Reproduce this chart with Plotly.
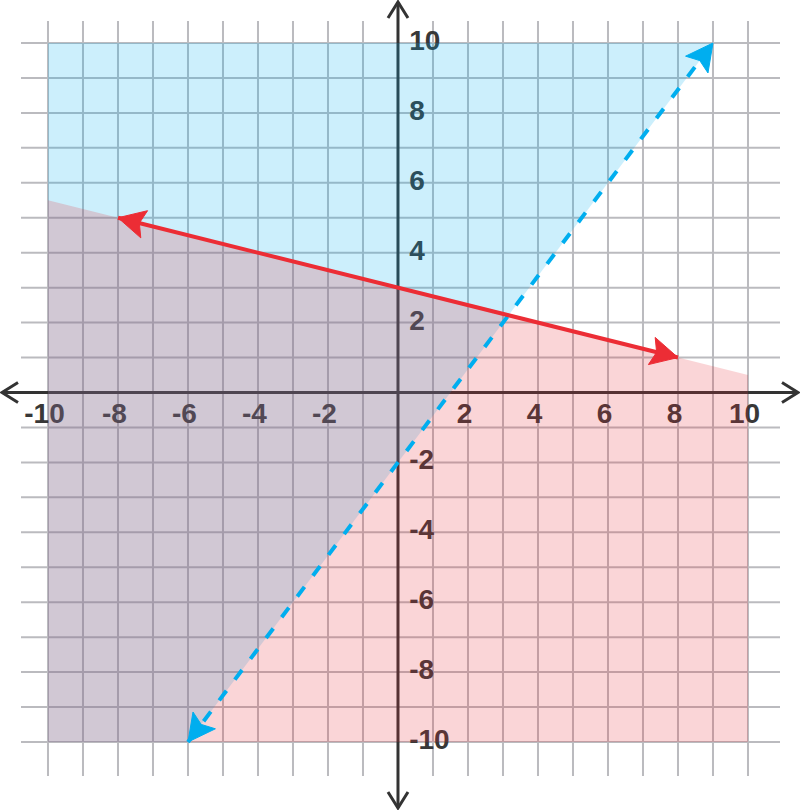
import math
import plotly.graph_objects as go

# ---------------- data ----------------
x_tick_vals = [-10, -8, -6, -4, -2, 2, 4, 6, 8, 10]
x_tick_labels = ["-10", "-8", "-6", "-4", "-2", "2", "4", "6", "8", "10"]
y_tick_vals = [10, 8, 6, 4, 2, -2, -4, -6, -8, -10]
y_tick_labels = ["10", "8", "6", "4", "2", "-2", "-4", "-6", "-8", "-10"]
grid_vals = list(range(-10, 11))

# solid red line  y = -x/4 + 3  (arrow end points)
red_line_x = [-8, 8]
red_line_y = [5, 1]
# red shaded half-plane (below the red line), boundary across the grid
red_region_x = [-10, 10]
red_region_y = [5.5, 0.5]

# dashed blue line  y = 4x/3 - 2  (arrow end points)
blue_line_x = [-6, 9]
blue_line_y = [-10, 10]

region_left, region_right = -10, 10
region_bottom, region_top = -10, 10

# ---------------- layout constants ----------------
W, H = 800, 810
X_RANGE = [-11.371, 11.486]
Y_RANGE = [-11.946, 11.23]
SX = W / (X_RANGE[1] - X_RANGE[0])
SY = H / (Y_RANGE[1] - Y_RANGE[0])

GRID_COLOR = "rgb(187,187,191)"
AXIS_COLOR = "#333333"
LABEL_COLOR = "#383838"
RED = "#ec2d35"
BLUE = "#00aeef"
FONT = "Liberation Sans, Arial, sans-serif"


def px2x(p):
    return X_RANGE[0] + p / SX


def py2y(p):
    return Y_RANGE[1] - p / SY


def arrowhead(tip_x, tip_y, from_x, from_y, length=27, half=14, notch=5):
    dx = (tip_x - from_x) * SX
    dy = (tip_y - from_y) * SY
    n = math.hypot(dx, dy)
    ux, uy = dx / n, dy / n
    vx, vy = -uy, ux
    pts = [
        (0, 0),
        (-ux * length + vx * half, -uy * length + vy * half),
        (-ux * (length - notch), -uy * (length - notch)),
        (-ux * length - vx * half, -uy * length - vy * half),
        (0, 0),
    ]
    xs = [tip_x + p[0] / SX for p in pts]
    ys = [tip_y + p[1] / SY for p in pts]
    return xs, ys


def chevron(tip_x, tip_y, dirx, diry, back=16, half=10):
    vx, vy = -diry, dirx
    xs = [tip_x + (-dirx * back + vx * half) / SX, tip_x,
          tip_x + (-dirx * back - vx * half) / SX]
    ys = [tip_y + (-diry * back + vy * half) / SY, tip_y,
          tip_y + (-diry * back - vy * half) / SY]
    return xs, ys


fig = go.Figure()

# ---------------- grid ----------------
gx, gy = [], []
v_top, v_bot = py2y(21), py2y(776)
h_left, h_right = px2x(21), px2x(780)
for v in grid_vals:
    gx += [v, v, None]
    gy += [v_bot, v_top, None]
    gx += [h_left, h_right, None]
    gy += [v, v, None]
fig.add_trace(go.Scatter(x=gx, y=gy, mode="lines",
                         line=dict(color=GRID_COLOR, width=2), hoverinfo="skip"))

# ---------------- axes ----------------
ax_l, ax_r = px2x(2), px2x(798)
ay_t, ay_b = py2y(2), py2y(808)
fig.add_trace(go.Scatter(x=[ax_l, ax_r, None, 0, 0], y=[0, 0, None, ay_t, ay_b],
                         mode="lines", line=dict(color=AXIS_COLOR, width=3),
                         hoverinfo="skip"))
for (tx, ty, dx, dy) in [(ax_l, 0, -1, 0), (ax_r, 0, 1, 0), (0, ay_t, 0, 1), (0, ay_b, 0, -1)]:
    cx, cy = chevron(tx, ty, dx, dy)
    fig.add_trace(go.Scatter(x=cx, y=cy, mode="lines",
                             line=dict(color=AXIS_COLOR, width=3), hoverinfo="skip"))

# ---------------- tick labels ----------------
tfont = dict(family=FONT, size=28, color=LABEL_COLOR, weight="bold")
fig.add_trace(go.Scatter(x=[v - 0.1 for v in x_tick_vals], y=[-0.66] * len(x_tick_vals),
                         text=x_tick_labels, mode="text", textposition="middle center",
                         textfont=tfont, hoverinfo="skip"))
fig.add_trace(go.Scatter(x=[0.32] * len(y_tick_vals), y=y_tick_vals,
                         text=y_tick_labels, mode="text", textposition="middle right",
                         textfont=tfont, hoverinfo="skip"))

# ---------------- shaded regions ----------------
blue_poly_x = [region_left, blue_line_x[1], blue_line_x[0], region_left, region_left]
blue_poly_y = [region_top, blue_line_y[1], blue_line_y[0], region_bottom, region_top]
fig.add_trace(go.Scatter(x=blue_poly_x, y=blue_poly_y, mode="lines", fill="toself",
                         fillcolor="rgba(0,174,239,0.2)", line=dict(width=0),
                         hoverinfo="skip"))
red_poly_x = [red_region_x[0], red_region_x[1], region_right, region_left, red_region_x[0]]
red_poly_y = [red_region_y[0], red_region_y[1], region_bottom, region_bottom, red_region_y[0]]
fig.add_trace(go.Scatter(x=red_poly_x, y=red_poly_y, mode="lines", fill="toself",
                         fillcolor="rgba(232,45,55,0.2)", line=dict(width=0),
                         hoverinfo="skip"))

# ---------------- lines with arrowheads ----------------
fig.add_trace(go.Scatter(x=blue_line_x, y=blue_line_y, mode="lines",
                         line=dict(color=BLUE, width=4, dash="12px,14px"),
                         hoverinfo="skip"))
for i, j in [(0, 1), (1, 0)]:
    ax_, ay_ = arrowhead(blue_line_x[i], blue_line_y[i], blue_line_x[j], blue_line_y[j])
    fig.add_trace(go.Scatter(x=ax_, y=ay_, mode="lines", fill="toself", fillcolor=BLUE,
                             line=dict(color=BLUE, width=1), hoverinfo="skip"))

fig.add_trace(go.Scatter(x=red_line_x, y=red_line_y, mode="lines",
                         line=dict(color=RED, width=4), hoverinfo="skip"))
for i, j in [(0, 1), (1, 0)]:
    ax_, ay_ = arrowhead(red_line_x[i], red_line_y[i], red_line_x[j], red_line_y[j])
    fig.add_trace(go.Scatter(x=ax_, y=ay_, mode="lines", fill="toself", fillcolor=RED,
                             line=dict(color=RED, width=1), hoverinfo="skip"))

fig.update_layout(
    width=W, height=H,
    margin=dict(l=0, r=0, t=0, b=0),
    paper_bgcolor="white", plot_bgcolor="white",
    showlegend=False,
    xaxis=dict(range=X_RANGE, visible=False, fixedrange=True),
    yaxis=dict(range=Y_RANGE, visible=False, fixedrange=True),
)

fig.write_html("out.html", config={"displayModeBar": False},
               post_script="document.body.style.margin='0';document.body.style.overflow='hidden';")
